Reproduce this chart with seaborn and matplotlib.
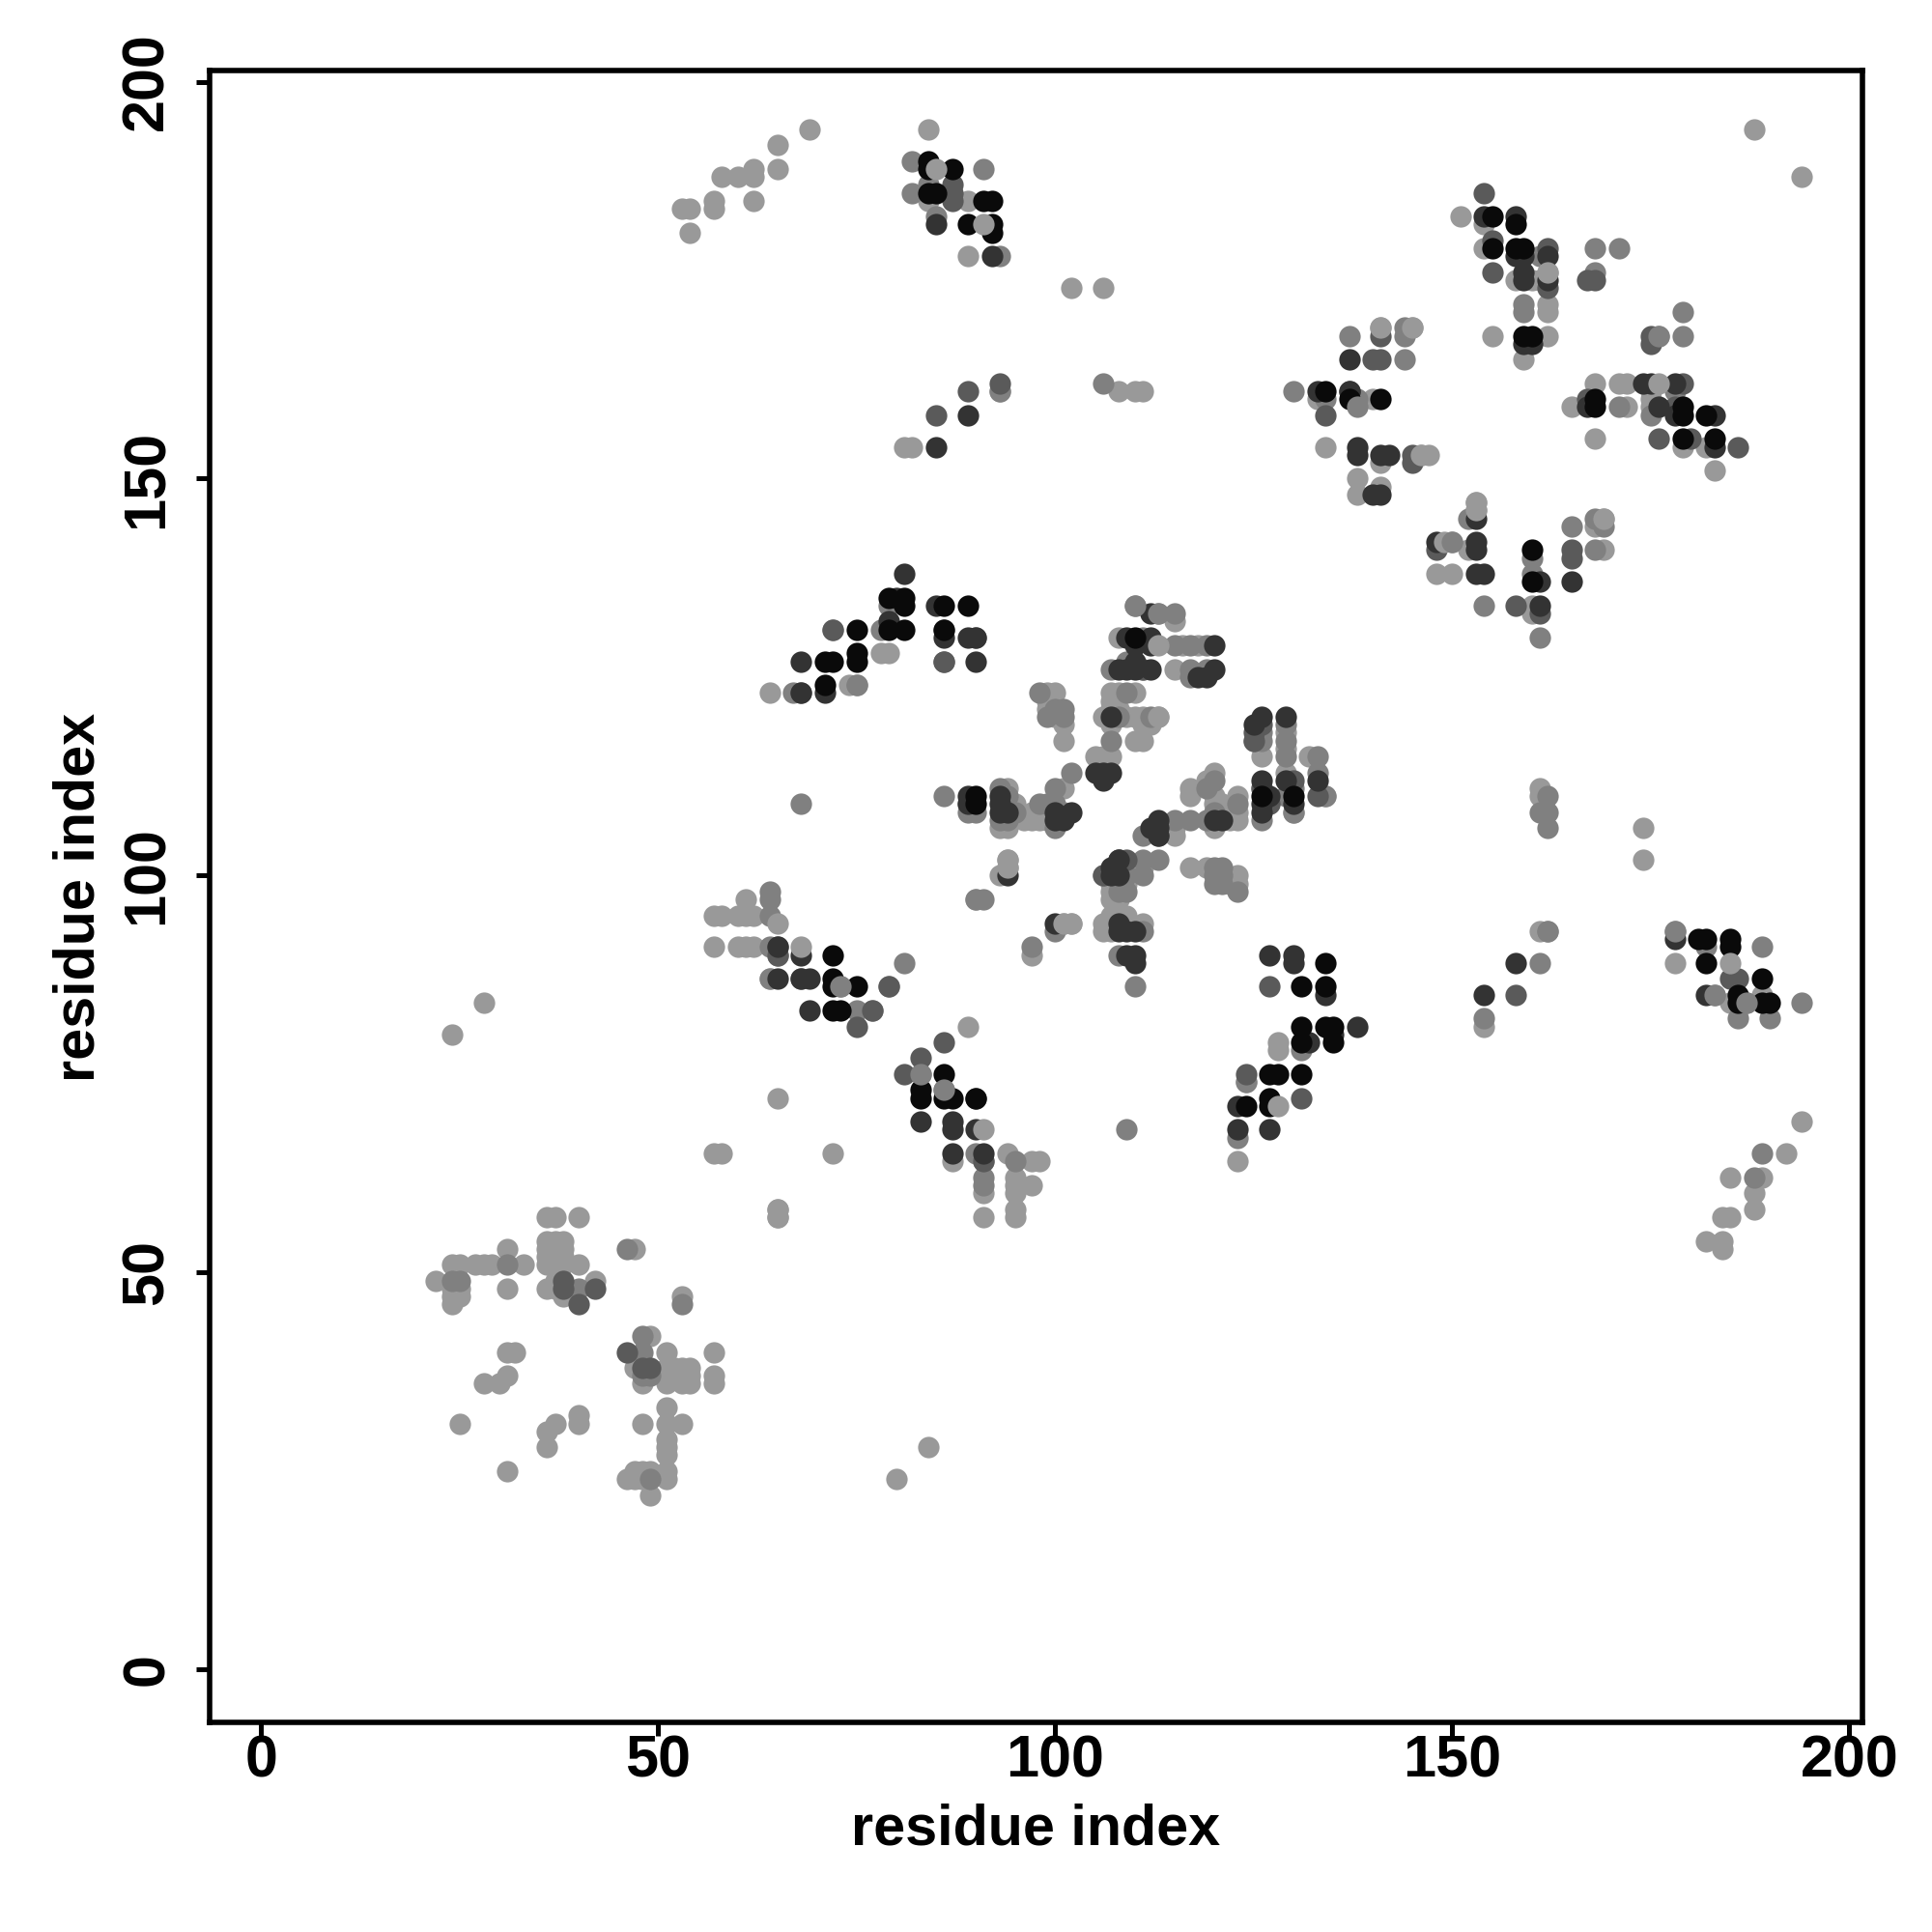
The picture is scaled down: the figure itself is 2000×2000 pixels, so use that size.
"""
Residue contact map, points shaded by contact strength.
"""

import pandas as pd
import matplotlib
matplotlib.use("Agg")
import matplotlib.pyplot as plt
import seaborn as sns

# ── Data: (residue x, residue y) per shade ──────────────────────────────────
light = [
    (36,57),(37,57),(40,57),(65,58),(65,57),(36,54),(37,54),(38,54),(36,53),(37,53),(38,53),(31,53),(47,53),
    (36,52),(37,52),(38,52),(24,51),(25,51),(27,51),(28,51),(29,51),(33,51),(36,51),(37,51),(38,51),(40,51),
    (22,49),(37,49),(42,49),(24,48),(25,48),(31,48),(36,48),(37,48),(24,47),(25,47),(38,47),(53,47),(24,46),
    (49,42),(31,40),(32,40),(51,40),(57,40),(47,38),(51,38),(52,38),(53,38),(54,38),(31,37),(51,37),(52,37),
    (53,37),(54,37),(57,37),(28,36),(30,36),(48,36),(51,36),(53,36),(54,36),(57,36),(51,33),(40,32),(25,31),
    (37,31),(40,31),(48,31),(51,31),(53,31),(36,30),(51,29),(36,28),(51,28),(51,27),(31,25),(47,25),(48,25),
    (49,25),(51,25),(46,24),(47,24),(48,24),(51,24),(49,22),(24,80),(28,84),(80,24),(84,28),
    (57,95),(58,95),(60,95),(61,95),(62,95),(61,97),(57,91),(60,91),(61,91),(62,91),(64,87),(89,81),(65,72),
    (57,65),(58,65),(72,65),(87,64),(94,65),(97,64),(98,64),(95,62),(95,61),(97,61),(91,60),(95,60),(65,58),
    (95,58),(65,57),(91,57),(95,57),(94,102),(94,101),(93,100),(90,97),(101,94),(102,94),(97,90),
    (53,184),(54,184),(54,181),(57,185),(57,184),(58,188),(60,188),(62,188),(62,189),(62,185),(65,192),(65,189),
    (69,194),(84,194),(84,185),(89,185),(89,178),(102,174),(106,174),(93,161),(81,154),(82,154),(108,161),
    (110,161),(111,161),(188,194),(194,188),(64,123),(79,128),(78,128),(74,124),
    (108,123),(110,123),(107,123),(99,123),(100,123),(99,122),(107,122),(99,121),(107,121),(108,121),(100,120),
    (106,120),(109,120),(110,120),(111,120),(113,120),(101,119),(107,119),(111,119),(112,119),(101,117),(110,117),
    (111,117),(105,115),(106,115),(107,115),(108,130),(115,132),(116,129),(118,129),(115,126),(94,111),(95,109),
    (93,106),(94,106),(97,108),(96,107),(97,107),(98,108),(99,108),(98,107),(99,107),(101,111),(115,106),(115,105),
    (117,111),(117,110),(119,112),(120,113),(120,110),(121,109),(120,109),(123,110),(123,108),(123,107),(122,107),
    (120,106),(130,108),(126,115),(129,118),(129,116),(129,113),(132,115),(134,110),(117,101),(119,101),(122,99),
    (123,100),(123,99),(111,101),(109,99),(107,98),(107,97),(108,97),(107,95),(109,95),(106,94),(107,94),(109,94),
    (111,94),(106,93),(107,93),(108,99),(107,99),(161,111),(161,110),(174,106),(174,102),(154,81),(161,93),
    (128,79),(128,78),(124,74),(123,64),(178,89),(189,85),(185,84),(194,69),(192,65),(185,62),(189,62),(188,60),
    (188,58),(184,57),(185,57),(182,54),(184,54),(184,53),(151,183),(154,182),(154,179),(162,176),(158,175),
    (160,175),(161,175),(162,172),(162,171),(155,168),(162,168),(159,165),(141,169),(145,169),(168,162),(171,162),
    (172,162),(175,161),(133,160),(140,160),(175,160),(165,159),(172,159),(175,159),(134,154),(179,154),(182,154),
    (168,155),(146,153),(147,153),(141,152),(183,151),(138,150),(141,149),(138,148),(153,147),(153,146),(169,145),
    (168,144),(152,141),(169,141),(148,138),(150,138),(160,134),(160,133),
]
mid = [
    (46,53),(24,49),(25,49),(40,48),(53,46),(48,42),(48,40),(48,37),(49,37),(49,24),(31,51),
    (64,98),(64,97),(64,95),(64,91),(65,90),(81,89),(64,87),(73,86),(75,83),(77,83),(79,86),(83,75),(86,73),
    (90,65),(91,64),(95,64),(91,62),(91,61),(93,161),(90,97),(91,97),(97,91),(100,93),(110,86),(109,68),
    (82,190),(91,189),(84,187),(82,186),(93,178),(85,183),(106,162),(130,161),(137,168),(144,168),(144,165),(144,169),
    (168,179),(171,179),(161,178),(168,176),(159,172),(159,171),(179,171),(176,168),(179,168),(178,161),(134,160),
    (138,160),(171,159),(175,158),(150,142),(152,145),(165,144),(168,145),(169,144),(168,141),(160,140),(160,138),
    (154,134),(161,130),(68,109),(86,110),(89,109),(90,108),(89,108),(75,124),(67,123),(72,131),(78,131),(79,134),
    (110,134),(113,133),(115,133),(111,130),(115,129),(117,129),(119,129),(119,126),(117,126),(117,125),(107,126),(111,126),
    (109,127),(109,123),(98,123),(100,121),(101,121),(99,120),(101,120),(108,120),(112,120),(107,117),(102,113),
    (100,111),(93,111),(94,110),(98,109),(99,109),(100,109),(95,108),(94,107),(93,107),(100,106),(101,108),(115,107),
    (117,107),(111,105),(119,107),(120,108),(123,109),(119,111),(120,112),(126,118),(126,117),(125,117),(129,119),
    (129,117),(129,115),(133,115),(133,113),(134,110),(129,110),(130,111),(126,111),(126,107),(127,109),(130,108),
    (120,101),(121,101),(120,100),(121,100),(120,99),(121,99),(123,98),(108,102),(111,102),(113,102),(111,100),
    (106,100),(109,100),(108,98),(109,98),(111,93),(108,90),(162,110),(161,108),(162,108),(162,106),(154,82),
    (161,89),(162,93),(178,93),(182,91),(189,91),(183,85),(187,84),(186,82),(190,82),(194,84),(189,65),(188,62),
    (131,78),(123,67),(124,74),
]
dim = [
    (38,49),(38,48),(42,48),(40,46),(46,40),(48,38),(49,38),(65,91),(65,90),(68,87),(77,83),(79,86),(75,81),
    (86,79),(83,77),(81,75),(91,64),(72,131),(90,130),(86,127),(86,131),(113,105),(111,126),(126,119),(125,118),
    (125,117),(126,111),(127,109),(130,112),(133,110),(109,102),(106,100),(108,102),
    (154,186),(155,180),(155,176),(162,179),(167,175),(168,175),(162,174),(140,165),(141,165),(141,168),(175,168),
    (175,167),(176,155),(180,155),(179,162),(167,160),(178,159),(134,158),(186,154),(145,153),(145,152),(148,141),
    (165,141),(165,140),(158,134),(161,133),(127,86),(158,85),(124,75),(131,72),(185,87),(186,87),(87,187),(87,186),
    (87,185),(85,158),(93,162),(68,123),(86,127),(89,161),
]
dark = [
    (65,91),(68,90),(69,87),(68,87),(65,87),(69,83),(83,69),(87,69),(87,68),(90,68),(90,72),(87,65),(91,65),(94,100),
    (100,94),(110,90),(109,90),(110,89),(89,110),(89,109),(85,182),(92,178),(85,154),(89,158),
    (81,138),(80,135),(85,134),(79,132),(86,130),(89,130),(90,130),(90,127),(68,127),(68,123),(71,123),
    (112,133),(109,130),(112,130),(110,129),(112,129),(120,129),(110,127),(108,126),(109,126),(110,126),(112,126),
    (120,126),(119,125),(118,125),(107,120),(105,113),(106,113),(106,112),(107,113),(126,120),(125,119),(129,120),
    (126,112),(129,112),(130,109),(127,110),(126,109),(126,108),(133,112),(93,110),(93,109),(93,108),(94,108),
    (100,108),(100,107),(101,107),(102,108),(113,107),(112,106),(113,106),(113,105),(120,107),(121,107),
    (108,102),(107,101),(107,100),(108,100),(108,94),(108,93),(109,93),(110,93),(127,90),(130,90),(130,89),(134,85),
    (138,81),(135,80),(132,79),(123,71),(123,68),(127,68),(154,85),(158,89),(178,92),(182,85),
    (154,183),(158,183),(158,178),(159,178),(162,178),(159,176),(159,175),(162,175),(159,167),(160,167),(137,165),
    (137,161),(174,162),(175,162),(178,162),(133,161),(137,161),(167,159),(176,159),(178,158),(183,158),(183,154),
    (138,154),(138,153),(141,153),(142,153),(140,148),(141,148),(153,145),(148,142),(153,142),(153,141),(161,137),
    (165,137),(153,138),(154,138),(161,134),
]
black = [
    (84,190),(84,189),(87,189),(84,186),(85,186),(91,185),(92,185),(89,182),(92,182),(92,181),
    (155,183),(158,182),(155,179),(158,179),(159,179),(159,168),(160,168),(137,160),(141,160),(168,160),(168,159),
    (179,159),(179,158),(182,158),(134,161),(179,155),(183,155),(160,141),(160,137),
    (79,135),(81,135),(81,134),(89,134),(86,134),(75,131),(79,131),(81,131),(86,131),(71,127),(72,127),(75,127),
    (75,128),(71,124),(110,130),(90,110),(90,109),(126,110),(130,110),(134,89),(72,90),(72,87),(72,86),(75,86),
    (72,83),(73,83),(86,75),(83,73),(83,72),(86,72),(87,72),(90,72),(131,86),(134,86),(131,81),(134,81),(135,81),
    (131,79),(135,79),(127,75),(128,75),(131,75),(127,72),(124,71),(127,71),(181,92),(182,92),(185,92),(185,91),
    (182,89),(189,87),(186,85),(186,84),(189,84),(190,84),
]
# lighter points that sit over the dark ones
over_light = [
    (85,189),(91,182),(91,68),(65,94),(68,91),(94,102),(94,101),(101,94),(102,94),(113,129),(113,120),(128,71),
    (185,89),(149,142),(176,162),(146,153),(153,146),(153,147),(162,176),(141,169),(145,169),(169,145),
]
over_mid = [
    (73,86),(83,75),(86,73),(75,124),(110,134),(113,133),(138,159),(183,85),(187,84),(150,142),(176,168),
    (162,93),(178,93),
]

tick_vals = [0, 50, 100, 150, 200]

# ── Style ───────────────────────────────────────────────────────────────────
sns.set_theme(style="white")
plt.rcParams["font.family"] = ["Liberation Sans", "DejaVu Sans"]
plt.rcParams["font.weight"] = "bold"

SHADES = [
    (light, "#999999"), (mid, "#808080"), (dim, "#5a5a5a"), (dark, "#333333"),
    (black, "#0a0a0a"), (over_light, "#999999"), (over_mid, "#808080"),
]

fig = plt.figure(figsize=(10, 10), dpi=200, facecolor="white")
ax = fig.add_axes([217/2000, 1-1783/2000, (1928-217)/2000, (1783-73)/2000])

for pts, col in SHADES:
    df = pd.DataFrame(pts, columns=["x", "y"])
    sns.scatterplot(data=df, x="x", y="y", color=col, s=64, linewidth=0, ax=ax, zorder=3, clip_on=True)

ax.set_xlim(-6.5, 201.65)
ax.set_ylim(-6.65, 201.4)
ax.set_xticks(tick_vals)
ax.set_yticks(tick_vals)
ax.tick_params(axis="both", length=5, width=1.8, color="black", labelcolor="black", labelsize=22, bottom=True, left=True)
ax.tick_params(axis="x", pad=-0.4)
ax.tick_params(axis="y", pad=7.7)
for lab in ax.get_yticklabels():
    lab.set_rotation(90)
    lab.set_va("center")
for sp in ax.spines.values():
    sp.set_visible(True)
    sp.set_linewidth(2.0)
    sp.set_color("black")

ax.set_xlabel("residue index", fontsize=21.4, fontweight="bold", color="black")
ax.set_ylabel("residue index", fontsize=21.4, fontweight="bold", color="black")
ax.xaxis.set_label_coords((1072-217)/1711, -84/1710, transform=ax.transAxes)
ax.yaxis.set_label_coords(-107/1711, (1783-929)/1710, transform=ax.transAxes)

fig.savefig("out.png", dpi=200, facecolor="white")
